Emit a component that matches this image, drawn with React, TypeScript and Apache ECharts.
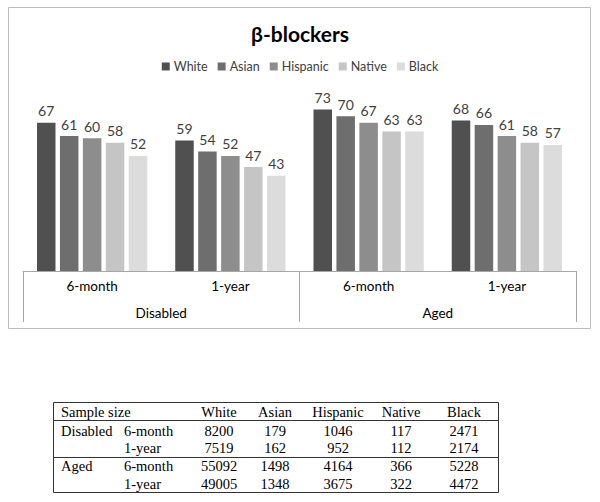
import React, { useEffect, useRef } from "react";
import * as echarts from "echarts";

const categories = ["6-month", "1-year", "6-month", "1-year"];
const groups = ["Disabled", "Aged"];
const seriesNames = ["White", "Asian", "Hispanic", "Native", "Black"];
const white = [67, 59, 73, 68];
const asian = [61, 54, 70, 66];
const hispanic = [60, 52, 67, 61];
const native = [58, 47, 63, 58];
const black = [52, 43, 63, 57];
const colors = ["#505050", "#6e6e6e", "#8d8d8d", "#c5c5c5", "#dcdcdc"];

const tableHeader = ["White", "Asian", "Hispanic", "Native", "Black"];
const tableGroups = ["Disabled", "", "Aged", ""];
const tablePeriods = ["6-month", "1-year", "6-month", "1-year"];
const sampleWhite = [8200, 7519, 55092, 49005];
const sampleAsian = [179, 162, 1498, 1348];
const sampleHispanic = [1046, 952, 4164, 3675];
const sampleNative = [117, 112, 366, 322];
const sampleBlack = [2471, 2174, 5228, 4472];

export default function App() {
  const ref = useRef<HTMLDivElement>(null);
  useEffect(() => {
    document.body.style.margin = "0";
    const chart = echarts.init(ref.current!, undefined, { renderer: "svg" });
    const values = [white, asian, hispanic, native, black];
    const series = seriesNames.map((name, i) => ({
      name,
      type: "bar",
      data: values[i],
      barWidth: 18.5,
      barGap: "24%",
      itemStyle: { color: colors[i] },
      label: {
        show: true,
        position: "top",
        distance: 5,
        color: "#404040",
        fontFamily: "Lato",
        fontSize: 14,
      },
    }));

    const colX = [219, 275, 338, 401, 464];
    const rowY = [430.5, 447.5, 466, 484];
    const serif = "14.5px 'Liberation Serif'";
    const tableCols = [sampleWhite, sampleAsian, sampleHispanic, sampleNative, sampleBlack];
    const graphics: any[] = [
      {
        type: "rect",
        shape: { x: 8.5, y: 7.5, width: 582, height: 321 },
        style: { fill: "none", stroke: "#bcbcbc", lineWidth: 1 },
        silent: true,
      },
      {
        type: "rect",
        shape: { x: 53.5, y: 402.5, width: 445, height: 90 },
        style: { fill: "none", stroke: "#333", lineWidth: 1 },
      },
      { type: "line", shape: { x1: 53.5, y1: 420.5, x2: 498.5, y2: 420.5 }, style: { stroke: "#333", lineWidth: 1 } },
      { type: "line", shape: { x1: 53.5, y1: 457.5, x2: 498.5, y2: 457.5 }, style: { stroke: "#333", lineWidth: 1 } },
      {
        type: "text",
        style: { text: "Sample size", x: 61, y: 411.5, font: serif, fill: "#000", align: "left", verticalAlign: "middle" },
      },
    ];
    tableHeader.forEach((h, i) => {
      graphics.push({
        type: "text",
        style: { text: h, x: colX[i], y: 411.5, font: serif, fill: "#000", align: "center", verticalAlign: "middle" },
      });
    });
    rowY.forEach((y, r) => {
      if (tableGroups[r]) {
        graphics.push({
          type: "text",
          style: { text: tableGroups[r], x: 61, y, font: serif, fill: "#000", align: "left", verticalAlign: "middle" },
        });
      }
      graphics.push({
        type: "text",
        style: { text: tablePeriods[r], x: 124, y, font: serif, fill: "#000", align: "left", verticalAlign: "middle" },
      });
      tableCols.forEach((col, c) => {
        graphics.push({
          type: "text",
          style: { text: String(col[r]), x: colX[c], y, font: serif, fill: "#000", align: "center", verticalAlign: "middle" },
        });
      });
    });

    chart.setOption({
      animation: false,
      backgroundColor: "#fff",
      title: {
        text: "β-blockers",
        left: "center",
        top: 18,
        textStyle: { fontFamily: "Lato", fontSize: 21, fontWeight: "bold", color: "#000" },
      },
      legend: {
        data: seriesNames,
        top: 55,
        left: "center",
        itemWidth: 8,
        itemHeight: 8,
        itemGap: 10,
        icon: "rect",
        textStyle: { fontFamily: "Lato", fontSize: 12.5, color: "#404040", padding: [0, 0, 0, -1] },
      },
      grid: { left: 23, right: 24, top: 94, bottom: 231 },
      xAxis: [
        {
          type: "category",
          data: categories,
          axisLine: { show: true, lineStyle: { color: "#a6a6a6" } },
          axisTick: { show: false },
          axisLabel: { margin: 8, fontFamily: "Lato", fontSize: 13.5, color: "#000" },
        },
        {
          type: "category",
          data: groups,
          position: "bottom",
          offset: 0,
          axisLine: { show: false },
          axisTick: { show: true, length: 51, lineStyle: { color: "#a6a6a6" } },
          axisLabel: { margin: 35, fontFamily: "Lato", fontSize: 13.5, color: "#000" },
        },
      ],
      yAxis: {
        type: "value",
        min: 0,
        max: 80,
        show: false,
        splitLine: { show: false },
      },
      series,
      graphic: graphics,
    });
    return () => chart.dispose();
  }, []);
  return <div ref={ref} style={{ width: 600, height: 502 }} />;
}
